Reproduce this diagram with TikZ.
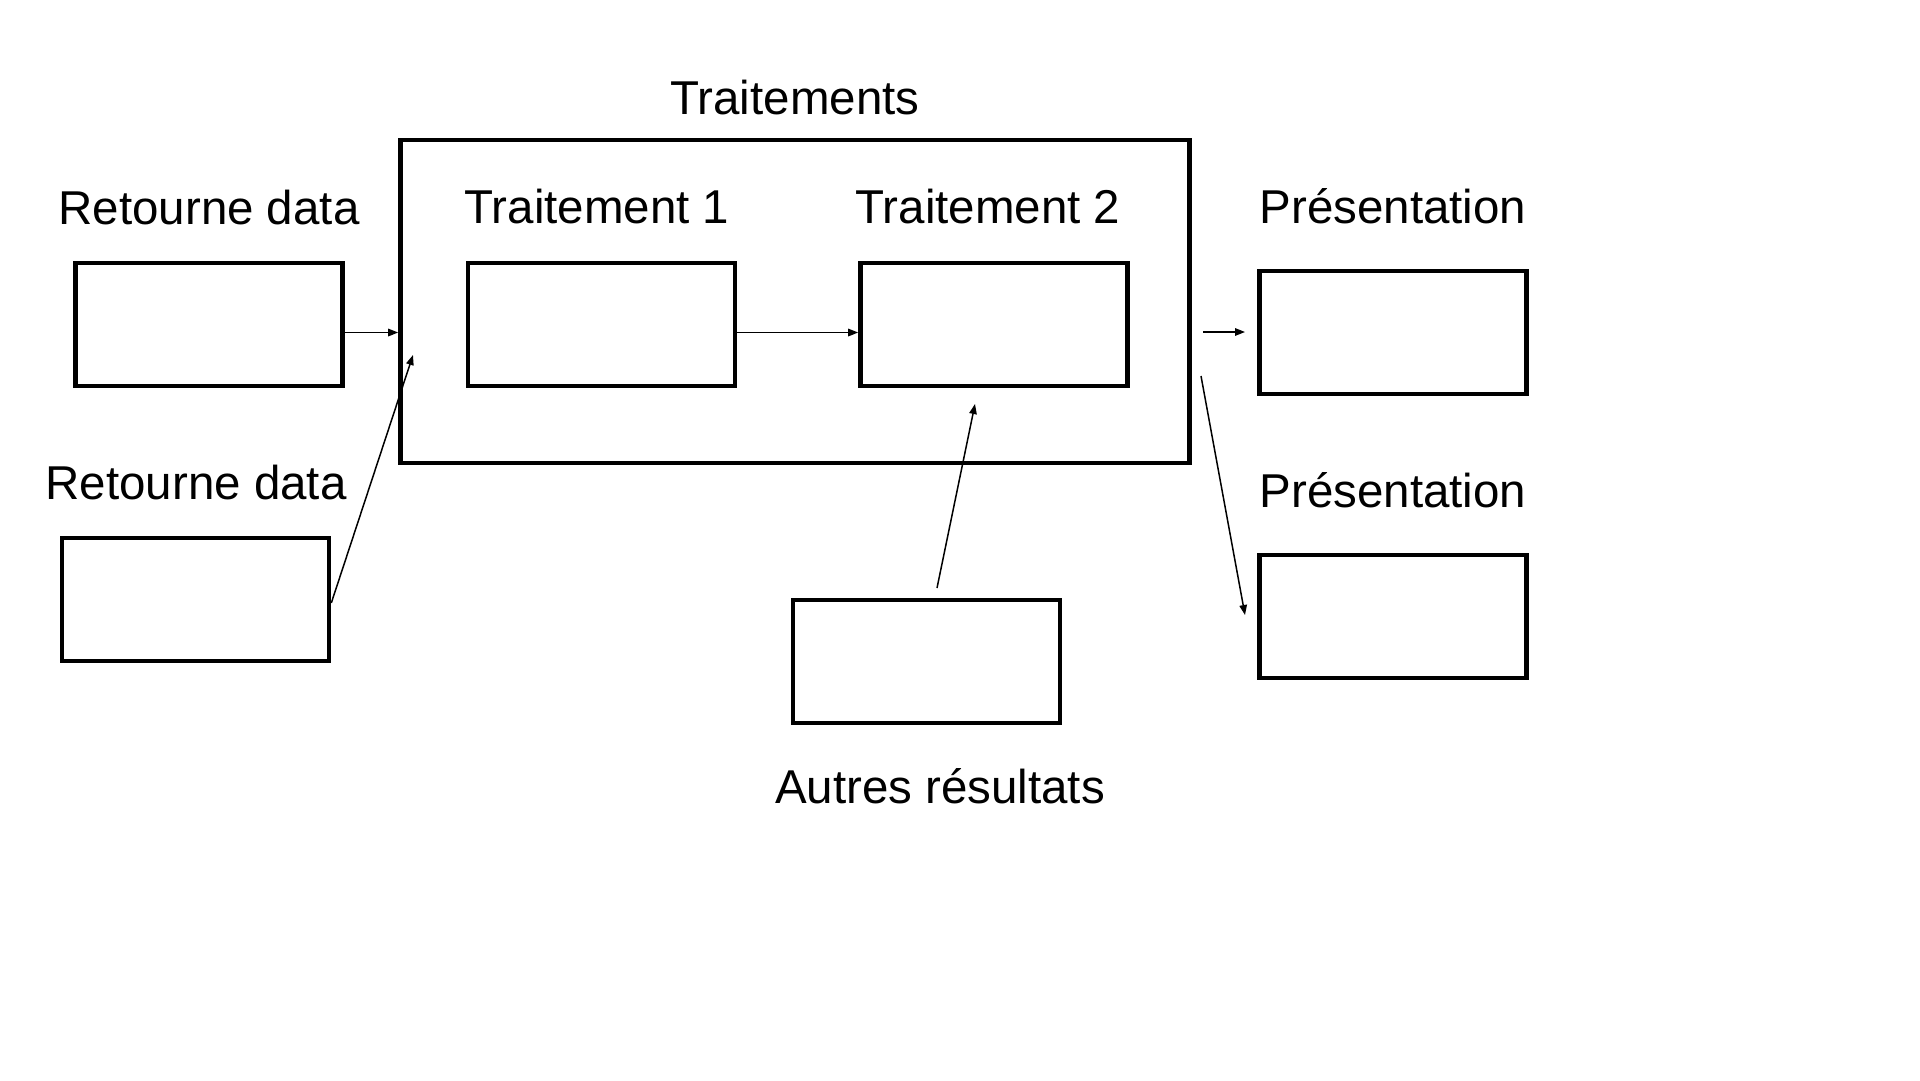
\documentclass[tikz,border=0pt]{standalone}
\usepackage{fontspec}
\setmainfont{Liberation Sans}
\usetikzlibrary{arrows.meta,calc}
\begin{document}
\begin{tikzpicture}[x=1pt,y=-1pt,
  box/.style={draw=black,line width=4.6pt,rectangle,inner sep=0pt,minimum width=267pt,minimum height=123pt},
  lbl/.style={inner sep=0pt,anchor=base,font=\fontsize{47.5}{57}\selectfont},
  arr/.style={line width=1.5pt,-{Stealth[length=10pt,width=7.5pt,inset=0pt]}}]
\useasboundingbox (0,0) rectangle (1920,1080);
\fill[white] (0,0) rectangle (1920,1080);
% outer box
\node[box,minimum width=789pt,minimum height=323pt] (big) at (795,301.5) {};
\node[lbl] (ttitle) at (795,114) {Traitements};
% boxes
\node[box] (rd1) at (209,324.5) {};
\node[box] (rd2) at (195.5,599.5) {};
\node[box] (t1) at (601.5,324.5) {};
\node[box] (t2) at (994,324.5) {};
\node[box] (p1) at (1393,332.5) {};
\node[box] (p2) at (1393,616.5) {};
\node[box] (au) at (926.5,661.5) {};
% labels
\node[lbl] (lrd1) at (209,224) {Retourne data};
\node[lbl] (lrd2) at (196,499) {Retourne data};
\node[lbl] (lt1) at (597,223) {Traitement 1};
\node[lbl] (lt2) at (988,223) {Traitement 2};
\node[lbl] (lp1) at (1393,223) {Présentation};
\node[lbl] (lp2) at (1393,507) {Présentation};
\node[lbl] (lau) at (940,803) {Autres résultats};
% free ends
\coordinate (e2) at (413,355);
\coordinate (s3) at (1203,332);
\coordinate (e3) at (1245,332);
\coordinate (s4) at (1201,376);
\coordinate (e4) at (1245,615);
\coordinate (s5) at (937,588);
\coordinate (e5) at (975,404);
% connectors
\draw[arr] (rd1.east |- p1.west) -- (big.west |- p1.west);
\draw[arr] ([yshift=-3.5pt]rd2.east) -- (e2);
\draw[arr] (t1.east |- p1.west) -- (t2.west |- p1.west);
\draw[arr] (s3) -- (e3);
\draw[arr] (s4) -- (e4);
\draw[arr] (s5) -- (e5);
\end{tikzpicture}
\end{document}
